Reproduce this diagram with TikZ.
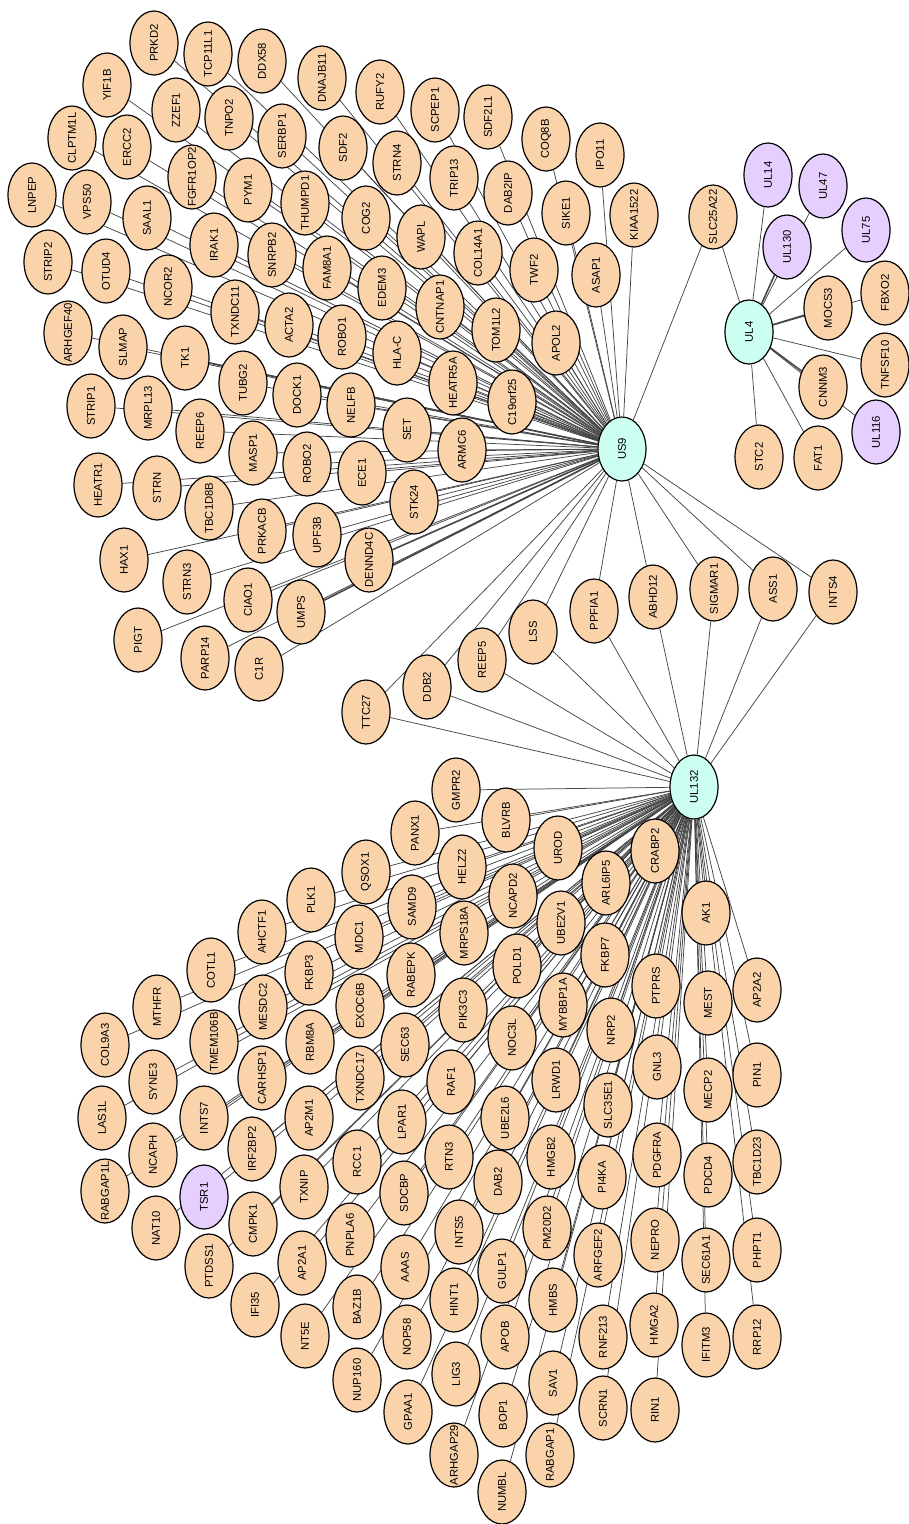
\documentclass[tikz,border=0pt]{standalone}
\usepackage{fontspec}
\setmainfont{Liberation Sans}
\usetikzlibrary{shapes.geometric,backgrounds}
\definecolor{peach}{RGB}{251,211,171}
\definecolor{hubcol}{RGB}{204,255,242}
\definecolor{lav}{RGB}{230,206,255}
\definecolor{edgecol}{RGB}{70,70,70}
\tikzset{
  gene/.style={ellipse, draw=black, line width=1.2pt, fill=peach,
    minimum width=64pt, minimum height=48pt, inner sep=0pt, rotate=90,
    font=\fontsize{11.3}{13}\selectfont},
  viral/.style={gene, fill=lav},
  hub/.style={gene, fill=hubcol},
  edge/.style={draw=edgecol, line width=0.75pt},
  bundle/.style={draw=edgecol, line width=1.6pt}
}
\newcommand{\gnode}[4][gene]{\node[#1] (#2) at (#3) {\makebox[0pt]{#4}};}
\begin{document}
\begin{tikzpicture}[x=1pt,y=-1pt]
\useasboundingbox (0,0) rectangle (909,1524);
% hubs
\gnode[hub]{us9}{622,449}{US9}
\gnode[hub]{ul132}{694,787}{UL132}
\gnode[hub]{ul4}{749,332}{UL4}
% US9 neighbourhood
\gnode{prkd2}{154,43}{PRKD2}
\gnode{tcp11l1}{208,54}{TCP11L1}
\gnode{ddx58}{262,61}{DDX58}
\gnode{dnajb11}{322,78}{DNAJB11}
\gnode{rufy2}{380,92}{RUFY2}
\gnode{scpep1}{435,110}{SCPEP1}
\gnode{sdf2l1}{488,117}{SDF2L1}
\gnode{coq8b}{546,139}{COQ8B}
\gnode{ipo11}{600,155}{IPO11}
\gnode{kiaa1522}{634,215}{KIAA1522}
\gnode{yif1b}{107,85}{YIF1B}
\gnode{zzef1}{176,110}{ZZEF1}
\gnode{tnpo2}{229,118}{TNPO2}
\gnode{serbp1}{282,136}{SERBP1}
\gnode{sdf2}{343,148}{SDF2}
\gnode{strn4}{397,163}{STRN4}
\gnode{trip13}{454,178}{TRIP13}
\gnode{dab2ip}{508,193}{DAB2IP}
\gnode{sike1}{566,213}{SIKE1}
\gnode{asap1}{596,275}{ASAP1}
\gnode{clptm1l}{72,138}{CLPTM1L}
\gnode{ercc2}{127,147}{ERCC2}
\gnode{fgfr1op2}{192,177}{FGFR1OP2}
\gnode{pym1}{248,190}{PYM1}
\gnode{thumpd1}{305,203}{THUMPD1}
\gnode{cog2}{366,218}{COG2}
\gnode{wapl}{421,237}{WAPL}
\gnode{col14a1}{478,253}{COL14A1}
\gnode{twf2}{534,270}{TWF2}
\gnode{apol2}{556,343}{APOL2}
\gnode{lnpep}{32,195}{LNPEP}
\gnode{vps50}{87,202}{VPS50}
\gnode{saal1}{147,218}{SAAL1}
\gnode{irak1}{214,245}{IRAK1}
\gnode{snrpb2}{272,255}{SNRPB2}
\gnode{fam8a1}{327,268}{FAM8A1}
\gnode{edem3}{382,288}{EDEM3}
\gnode{cntnap1}{440,307}{CNTNAP1}
\gnode{tom1l2}{496,330}{TOM1L2}
\gnode{strip2}{48,262}{STRIP2}
\gnode{otud4}{106,271}{OTUD4}
\gnode{ncor2}{168,287}{NCOR2}
\gnode{txndc11}{235,312}{TXNDC11}
\gnode{acta2}{289,325}{ACTA2}
\gnode{robo1}{342,337}{ROBO1}
\gnode{hlac}{397,353}{HLA-C}
\gnode{heatr5a}{453,383}{HEATR5A}
\gnode{c19orf25}{512,402}{C19orf25}
\gnode{arhgef40}{68,333}{ARHGEF40}
\gnode{slmap}{123,347}{SLMAP}
\gnode{tk1}{185,358}{TK1}
\gnode{tubg2}{243,383}{TUBG2}
\gnode{dock1}{297,395}{DOCK1}
\gnode{nelfb}{351,405}{NELFB}
\gnode{setn}{407,430}{SET}
\gnode{armc6}{462,450}{ARMC6}
\gnode{strip1}{91,406}{STRIP1}
\gnode{mrpl13}{148,408}{MRPL13}
\gnode{reep6}{200,431}{REEP6}
\gnode{masp1}{253,453}{MASP1}
\gnode{robo2}{307,464}{ROBO2}
\gnode{ece1}{362,473}{ECE1}
\gnode{stk24}{414,502}{STK24}
\gnode{heatr1}{98,485}{HEATR1}
\gnode{strn}{157,488}{STRN}
\gnode{tbc1d8b}{209,508}{TBC1D8B}
\gnode{prkacb}{262,531}{PRKACB}
\gnode{upf3b}{317,535}{UPF3B}
\gnode{dennd4c}{369,560}{DENND4C}
\gnode{hax1}{124,560}{HAX1}
\gnode{strn3}{187,582}{STRN3}
\gnode{ciao1}{248,600}{CIAO1}
\gnode{umps}{301,612}{UMPS}
\gnode{pigt}{138,640}{PIGT}
\gnode{parp14}{205,658}{PARP14}
\gnode{c1r}{259,669}{C1R}
% shared between US9 and UL4
\gnode{slc25a22}{713,217}{SLC25A22}
% shared between US9 and UL132
\gnode{ttc27}{366,712}{TTC27}
\gnode{ddb2}{427,687}{DDB2}
\gnode{reep5}{482,660}{REEP5}
\gnode{lss}{533,632}{LSS}
\gnode{ppfia1}{594,611}{PPFIA1}
\gnode{abhd12}{653,597}{ABHD12}
\gnode{sigmar1}{714,589}{SIGMAR1}
\gnode{ass1}{773,589}{ASS1}
\gnode{ints4}{833,592}{INTS4}
% UL4 neighbourhood
\gnode[viral]{ul14}{768,175}{UL14}
\gnode[viral]{ul47}{823,186}{UL47}
\gnode[viral]{ul130}{787,247}{UL130}
\gnode[viral]{ul75}{866,230}{UL75}
\gnode{fbxo2}{885,293}{FBXO2}
\gnode{mocs3}{828,308}{MOCS3}
\gnode{tnfsf10}{885,365}{TNFSF10}
\gnode{cnnm3}{823,387}{CNNM3}
\gnode[viral]{ul116}{876,432}{UL116}
\gnode{fat1}{818,458}{FAT1}
\gnode{stc2}{759,457}{STC2}
% UL132 neighbourhood
\gnode{gmpr2}{456,790}{GMPR2}
\gnode{blvrb}{506,820}{BLVRB}
\gnode{panx1}{415,833}{PANX1}
\gnode{urod}{558,848}{UROD}
\gnode{qsox1}{366,872}{QSOX1}
\gnode{helz2}{462,867}{HELZ2}
\gnode{plk1}{311,900}{PLK1}
\gnode{ahctf1}{262,932}{AHCTF1}
\gnode{cotl1}{211,970}{COTL1}
\gnode{samd9}{412,907}{SAMD9}
\gnode{ncapd2}{513,896}{NCAPD2}
\gnode{arl6ip5}{606,883}{ARL6IP5}
\gnode{crabp2}{655,851}{CRABP2}
\gnode{mdc1}{359,937}{MDC1}
\gnode{mrps18a}{464,933}{MRPS18A}
\gnode{ube2v1}{561,923}{UBE2V1}
\gnode{fkbp3}{309,973}{FKBP3}
\gnode{rabepk}{411,975}{RABEPK}
\gnode{pold1}{517,966}{POLD1}
\gnode{fkbp7}{605,955}{FKBP7}
\gnode{ak1}{706,913}{AK1}
\gnode{mesdc2}{263,1007}{MESDC2}
\gnode{mthfr}{157,1007}{MTHFR}
\gnode{exoc6b}{360,1006}{EXOC6B}
\gnode{pik3c3}{463,1010}{PIK3C3}
\gnode{mybbp1a}{563,1005}{MYBBP1A}
\gnode{ptprs}{656,986}{PTPRS}
\gnode{mest}{708,1003}{MEST}
\gnode{ap2a2}{757,990}{AP2A2}
\gnode{tmem106b}{214,1042}{TMEM106B}
\gnode{rbm8a}{310,1042}{RBM8A}
\gnode{col9a3}{105,1045}{COL9A3}
\gnode{sec63}{405,1045}{SEC63}
\gnode{noc3l}{512,1038}{NOC3L}
\gnode{nrp2}{611,1030}{NRP2}
\gnode{gnl3}{657,1067}{GNL3}
\gnode{mecp2}{708,1090}{MECP2}
\gnode{pin1}{757,1075}{PIN1}
\gnode{syne3}{153,1082}{SYNE3}
\gnode{carhsp1}{262,1078}{CARHSP1}
\gnode{txndc17}{360,1078}{TXNDC17}
\gnode{raf1}{451,1082}{RAF1}
\gnode{lrwd1}{556,1080}{LRWD1}
\gnode{slc35e1}{608,1105}{SLC35E1}
\gnode{las1l}{102,1118}{LAS1L}
\gnode{ints7}{204,1118}{INTS7}
\gnode{ap2m1}{309,1118}{AP2M1}
\gnode{lpar1}{402,1122}{LPAR1}
\gnode{ube2l6}{505,1118}{UBE2L6}
\gnode{ncaph}{153,1155}{NCAPH}
\gnode{irf2bp2}{252,1149}{IRF2BP2}
\gnode{rcc1}{357,1162}{RCC1}
\gnode{rtn3}{449,1157}{RTN3}
\gnode{hmgb2}{551,1157}{HMGB2}
\gnode{pdgfra}{657,1155}{PDGFRA}
\gnode{pdcd4}{708,1175}{PDCD4}
\gnode{tbc1d23}{757,1162}{TBC1D23}
\gnode{rabgap1l}{105,1191}{RABGAP1L}
\gnode[viral]{tsr1}{204,1197}{TSR1}
\gnode{txnip}{304,1187}{TXNIP}
\gnode{sdcbp}{404,1193}{SDCBP}
\gnode{dab2}{498,1182}{DAB2}
\gnode{pi4ka}{602,1177}{PI4KA}
\gnode{nat10}{156,1228}{NAT10}
\gnode{cmpk1}{253,1224}{CMPK1}
\gnode{pnpla6}{350,1235}{PNPLA6}
\gnode{ints5}{459,1232}{INTS5}
\gnode{pm20d2}{547,1228}{PM20D2}
\gnode{nepro}{655,1240}{NEPRO}
\gnode{sec61a1}{706,1260}{SEC61A1}
\gnode{phpt1}{757,1250}{PHPT1}
\gnode{ptdss1}{209,1266}{PTDSS1}
\gnode{ap2a1}{302,1263}{AP2A1}
\gnode{aaas}{405,1267}{AAAS}
\gnode{gulp1}{502,1271}{GULP1}
\gnode{arfgef2}{598,1255}{ARFGEF2}
\gnode{ifi35}{255,1305}{IFI35}
\gnode{baz1b}{357,1307}{BAZ1B}
\gnode{hint1}{454,1300}{HINT1}
\gnode{hmbs}{553,1300}{HMBS}
\gnode{nt5e}{305,1336}{NT5E}
\gnode{nop58}{407,1337}{NOP58}
\gnode{apob}{505,1337}{APOB}
\gnode{rnf213}{603,1337}{RNF213}
\gnode{hmga2}{654,1325}{HMGA2}
\gnode{ifitm3}{706,1345}{IFITM3}
\gnode{rrp12}{757,1337}{RRP12}
\gnode{nup160}{357,1380}{NUP160}
\gnode{lig3}{456,1374}{LIG3}
\gnode{sav1}{553,1383}{SAV1}
\gnode{rin1}{655,1410}{RIN1}
\gnode{gpaa1}{408,1412}{GPAA1}
\gnode{bop1}{503,1415}{BOP1}
\gnode{scrn1}{603,1408}{SCRN1}
\gnode{arhgap29}{454,1455}{ARHGAP29}
\gnode{rabgap1}{550,1455}{RABGAP1}
\gnode{numbl}{502,1492}{NUMBL}
% interactions, drawn behind the nodes
\begin{scope}[on background layer]
\foreach \n in {prkd2,tcp11l1,ddx58,dnajb11,rufy2,scpep1,sdf2l1,coq8b,ipo11,kiaa1522,
  yif1b,zzef1,tnpo2,serbp1,sdf2,strn4,trip13,dab2ip,sike1,asap1,
  clptm1l,ercc2,fgfr1op2,pym1,thumpd1,cog2,wapl,col14a1,twf2,apol2,
  lnpep,vps50,saal1,irak1,snrpb2,fam8a1,edem3,cntnap1,tom1l2,
  strip2,otud4,ncor2,txndc11,acta2,robo1,hlac,heatr5a,c19orf25,
  arhgef40,slmap,tubg2,dock1,nelfb,setn,armc6,
  strip1,mrpl13,reep6,masp1,robo2,ece1,stk24,
  heatr1,strn,tbc1d8b,prkacb,upf3b,hax1,strn3,ciao1,pigt,parp14,c1r,
  slc25a22,ttc27,ddb2,reep5,lss,ppfia1,abhd12,sigmar1,ass1,ints4}
  \draw[edge] (us9) -- (\n);
\foreach \n in {tk1,umps,dennd4c}
  \draw[bundle] (us9) -- (\n);
\foreach \n in {slc25a22,ul14,ul47,ul75,fbxo2,tnfsf10,ul116,fat1,stc2}
  \draw[edge] (ul4) -- (\n);
\foreach \n in {ul130,mocs3,cnnm3}
  \draw[bundle] (ul4) -- (\n);
\foreach \n in {ttc27,ddb2,reep5,lss,ppfia1,abhd12,sigmar1,ass1,ints4,
  gmpr2,blvrb,panx1,urod,qsox1,helz2,plk1,ahctf1,cotl1,samd9,ncapd2,arl6ip5,crabp2,
  mdc1,mrps18a,ube2v1,fkbp3,rabepk,pold1,fkbp7,ak1,mesdc2,mthfr,exoc6b,pik3c3,
  mybbp1a,ptprs,mest,ap2a2,tmem106b,rbm8a,col9a3,sec63,noc3l,nrp2,gnl3,mecp2,pin1,
  syne3,carhsp1,txndc17,raf1,lrwd1,slc35e1,las1l,ints7,ap2m1,lpar1,ube2l6,
  ncaph,irf2bp2,rcc1,rtn3,hmgb2,pdgfra,pdcd4,tbc1d23,rabgap1l,tsr1,txnip,sdcbp,
  dab2,pi4ka,nat10,cmpk1,pnpla6,ints5,pm20d2,nepro,sec61a1,phpt1,ptdss1,ap2a1,
  aaas,gulp1,arfgef2,ifi35,baz1b,hint1,hmbs,nt5e,nop58,apob,rnf213,hmga2,ifitm3,
  rrp12,nup160,lig3,sav1,rin1,gpaa1,bop1,scrn1,arhgap29,rabgap1,numbl}
  \draw[edge] (ul132) -- (\n);
\end{scope}
\end{tikzpicture}
\end{document}
